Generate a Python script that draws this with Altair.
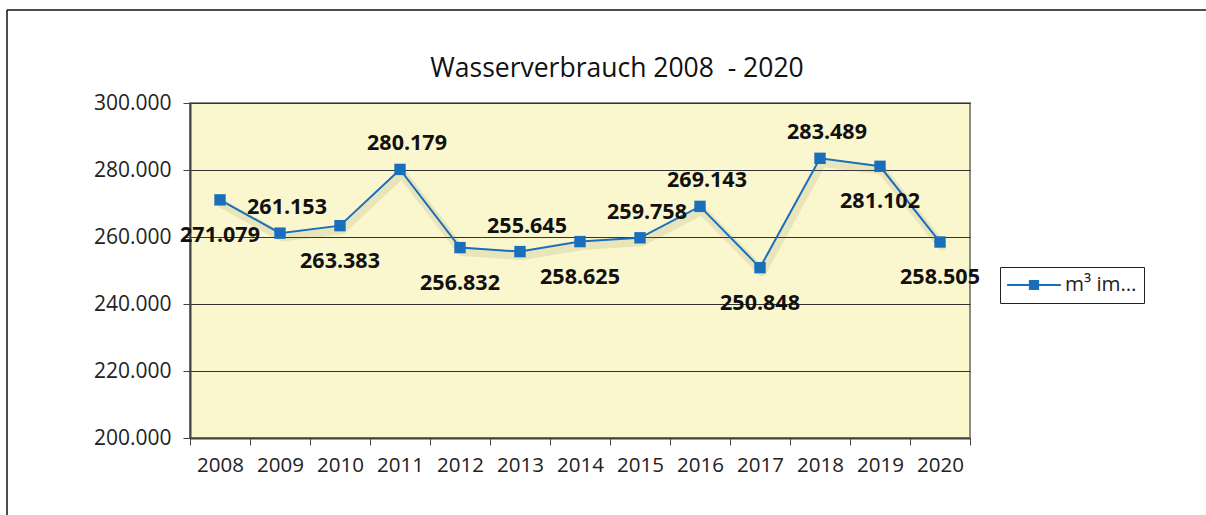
import altair as alt
import pandas as pd

# ---- data ----
years = ["2008", "2009", "2010", "2011", "2012", "2013", "2014",
         "2015", "2016", "2017", "2018", "2019", "2020"]
values = [271079, 261153, 263383, 280179, 256832, 255645, 258625,
          259758, 269143, 250848, 283489, 281102, 258505]
label_side = ["below", "above", "below", "above", "below", "above", "below",
              "above", "above", "below", "above", "below", "below"]
series_name = "m³ im…"
title_text = "Wasserverbrauch 2008 \u00a0- 2020"
y_ticks = [200000, 220000, 240000, 260000, 280000, 300000]

df = pd.DataFrame({"Jahr": years, "Wert": values, "Seite": label_side,
                   "Serie": [series_name] * len(years)})

FONT = "Open Sans"
BLUE = "#1a6fbd"
W, H = 780, 335
PAD = {"left": 190, "top": 103, "right": 236, "bottom": 77}

x_enc = alt.X("Jahr:O",
              scale=alt.Scale(type="band", paddingInner=0, paddingOuter=0),
              axis=alt.Axis(title=None, labelAngle=0, tickBand="extent",
                            labelFont=FONT, labelFontSize=20.5, labelColor="#222",
                            labelPadding=10, tickSize=7, tickColor="#444",
                            domainColor="#444", domainWidth=2, grid=False))
y_enc = alt.Y("Wert:Q",
              scale=alt.Scale(domain=[200000, 300000], nice=False, zero=False),
              axis=alt.Axis(title=None, values=y_ticks,
                            labelExpr="replace(format(datum.value, ',.0f'), ',', '.')",
                            labelFont=FONT, labelFontSize=21, labelColor="#222",
                            labelPadding=12, tickSize=7, tickColor="#444",
                            domainColor="#444", domainWidth=2,
                            grid=True, gridColor="#333", gridWidth=1))

base = alt.Chart(df)

shadow = base.mark_line(color="#7d7a40", opacity=0.14, strokeWidth=9,
                        xOffset=2, yOffset=4, strokeCap="round",
                        strokeJoin="round").encode(x=x_enc, y=y_enc)

legend_path = ("M-1,-0.04H1V0.04H-1Z "
               "M-0.19,-0.19H0.19V0.19H-0.19Z")
line = base.mark_line(strokeWidth=2).encode(
    x=x_enc, y=y_enc,
    color=alt.Color("Serie:N", scale=alt.Scale(range=[BLUE]),
                    legend=alt.Legend(title=None, orient="none",
                                      legendX=810, legendY=164,
                                      symbolType=legend_path, symbolSize=2900,
                                      symbolFillColor=BLUE, symbolStrokeColor=BLUE,
                                      symbolStrokeWidth=0, clipHeight=22,
                                      labelFont=FONT, labelFontSize=20.5,
                                      labelColor="#222", labelOffset=4,
                                      strokeColor="#222", padding=7,
                                      fillColor="white")))

points = base.mark_square(size=130, filled=True, color=BLUE, opacity=1).encode(x=x_enc, y=y_enc)

label_expr = "replace(format(datum.Wert, ',.0f'), ',', '.')"
labels_above = base.transform_filter("datum.Seite == 'above'").transform_calculate(
    lab=label_expr).mark_text(font=FONT, fontSize=21.5, fontWeight="bold",
                              color="#111", dy=-25, dx=7).encode(x=x_enc, y=y_enc, text="lab:N")
labels_below = base.transform_filter("datum.Seite == 'below'").transform_calculate(
    lab=label_expr).mark_text(font=FONT, fontSize=21.5, fontWeight="bold",
                              color="#111", dy=36).encode(x=x_enc, y=y_enc, text="lab:N")

frame_df = pd.DataFrame({"k": [0]})
frame_left = alt.Chart(frame_df).mark_rule(color="#111", strokeWidth=1.5).encode(
    x=alt.value(-183), y=alt.value(-93), y2=alt.value(420))
frame_top = alt.Chart(frame_df).mark_rule(color="#111", strokeWidth=1.5).encode(
    x=alt.value(-183), x2=alt.value(1030), y=alt.value(-93))

title_df = pd.DataFrame({"t": [title_text]})
title = alt.Chart(title_df).mark_text(font=FONT, fontSize=26.5, color="#111",
                                      align="center", baseline="middle").encode(
    text="t:N", x=alt.value(427), y=alt.value(-34))

chart = alt.layer(shadow, line, points, labels_above, labels_below,
                  frame_left, frame_top, title).properties(
    width=W, height=H,
    padding=PAD,
    autosize=alt.AutoSizeParams(type="none"),
    background="white",
).configure_view(fill="#faf7cf", stroke="#8c8c8c", strokeWidth=2)

chart.save("out.html", embed_options={"renderer": "svg", "actions": False})
